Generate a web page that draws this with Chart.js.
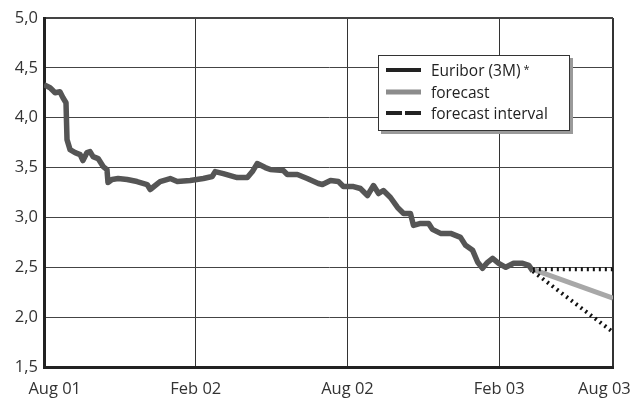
<!DOCTYPE html>
<html>
<head>
<meta charset="utf-8">
<script src="https://cdn.jsdelivr.net/npm/chart.js@4.4.1/dist/chart.umd.min.js"></script>
<style>
    body { margin: 0; background: #fff; font-family: "Open Sans", sans-serif; }
    #wrap { position: relative; width: 632px; height: 399px; }
    #legend {
        position: absolute; left: 378px; top: 55px; width: 190px; height: 74px;
        background: #fff; border: 1px solid #333; box-shadow: 3px 3px 0 #9a9a9a;
        font-size: 15.5px; color: #222;
    }
    .row { position: absolute; left: 7px; height: 20px; display: flex; align-items: center; }
    .row svg { margin-right: 10px; }
    sup { font-size: 11px; position: relative; top: -2px; margin-left: 3px; }
</style>
</head>
<body>
<div id="wrap">
    <canvas id="chart" width="632" height="399"></canvas>
    <div id="legend">
        <div class="row" style="top:4px"><svg width="35" height="8"><line x1="0" y1="4" x2="35" y2="4" stroke="#222" stroke-width="4"/></svg>Euribor (3M)<sup>*</sup></div>
        <div class="row" style="top:26px"><svg width="35" height="8"><line x1="0" y1="4" x2="35" y2="4" stroke="#8c8c8c" stroke-width="5"/></svg>forecast</div>
        <div class="row" style="top:47px"><svg width="35" height="8"><line x1="0" y1="4" x2="35" y2="4" stroke="#222" stroke-width="4" stroke-dasharray="16 3"/></svg>forecast interval</div>
    </div>
</div>
<script>
// x values are months since Aug 2001
const xMax = 22.5;
const tickMonths = [0, 6, 12, 18, xMax];
const tickLabels = ["Aug 01", "Feb 02", "Aug 02", "Feb 03", "Aug 03"];

const euriborMonths = [
    0.00, 0.24, 0.44, 0.63, 0.75, 0.87, 0.91, 1.03, 1.23, 1.43, 1.54, 1.70, 1.82, 1.94,
    2.14, 2.34, 2.49, 2.53, 2.69, 2.93, 3.29, 3.68, 4.08, 4.20, 4.59, 4.99, 5.27, 5.78,
    6.30, 6.65, 6.77, 7.09, 7.64, 8.04, 8.24, 8.43, 8.75, 8.95, 9.46, 9.62, 10.02, 10.41,
    10.85, 11.01, 11.33, 11.64, 11.84, 12.24, 12.51, 12.79, 13.03, 13.23, 13.42, 13.70,
    13.98, 14.22, 14.49, 14.61, 14.89, 15.21, 15.36, 15.68, 16.08, 16.47, 16.67, 16.95,
    17.15, 17.34, 17.54, 17.74, 17.98, 18.26, 18.57, 18.93, 19.17, 19.33,
];
const euribor = [
    4.33, 4.30, 4.25, 4.26, 4.20, 4.15, 3.78, 3.68, 3.65, 3.63, 3.57, 3.65, 3.66, 3.61,
    3.59, 3.51, 3.48, 3.35, 3.38, 3.39, 3.38, 3.36, 3.33, 3.28, 3.36, 3.39, 3.36, 3.37,
    3.39, 3.41, 3.46, 3.44, 3.40, 3.40, 3.46, 3.54, 3.50, 3.48, 3.47, 3.43, 3.43, 3.39,
    3.34, 3.33, 3.37, 3.36, 3.31, 3.31, 3.29, 3.22, 3.32, 3.24, 3.27, 3.20,
    3.10, 3.04, 3.04, 2.92, 2.94, 2.94, 2.88, 2.84, 2.84, 2.80, 2.72, 2.67,
    2.55, 2.49, 2.55, 2.59, 2.54, 2.50, 2.54, 2.54, 2.52, 2.46,
];

const forecastMonths = [19.33, xMax];
const forecast = [2.48, 2.19];
const upperBound = [2.48, 2.48];
const lowerBound = [2.46, 1.85];

const toPoints = (xs, ys) => xs.map((x, i) => ({ x, y: ys[i] }));
const LINE_CONSTS = { pointRadius: 0, tension: 0, fill: false, borderJoinStyle: "round" };

new Chart(document.getElementById("chart"), {
    type: "line",
    data: {
        datasets: [
            { ...LINE_CONSTS, data: toPoints(forecastMonths, upperBound), borderColor: "#111", borderWidth: 4, borderDash: [2, 4] },
            { ...LINE_CONSTS, data: toPoints(forecastMonths, lowerBound), borderColor: "#111", borderWidth: 4, borderDash: [2, 4] },
            { ...LINE_CONSTS, data: toPoints(forecastMonths, forecast), borderColor: "#a8a8a8", borderWidth: 5 },
            { ...LINE_CONSTS, data: toPoints(euriborMonths, euribor), borderColor: "#555", borderWidth: 5.5 },
        ],
    },
    options: {
        responsive: false,
        animation: false,
        layout: { padding: { top: 18, right: 19, left: 0, bottom: 0 } },
        plugins: { legend: { display: false }, tooltip: { enabled: false } },
        scales: {
            x: {
                type: "linear",
                min: 0,
                max: xMax,
                afterBuildTicks: (scale) => { scale.ticks = tickMonths.map((value) => ({ value })); },
                afterFit: (scale) => { scale.height = 32; scale.paddingLeft = 0; scale.paddingRight = 0; },
                grid: {
                    color: "#333",
                    lineWidth: (c) => (c.index === tickMonths.length - 1 ? 2 : 1),
                    drawTicks: false,
                },
                border: { color: "#222", width: 3 },
                ticks: {
                    autoSkip: false,
                    maxRotation: 0,
                    padding: 12,
                    color: "#333",
                    font: { family: "Open Sans", size: 16.5 },
                    // nudge first and last labels inward like the original
                    callback: (v, i) => (i === 0 ? "     " : "") + tickLabels[i] + (i === tickLabels.length - 1 ? "    " : ""),
                },
            },
            y: {
                min: 1.5,
                max: 5,
                afterFit: (scale) => { scale.width = 44; },
                grid: {
                    color: "#444",
                    lineWidth: (c) => (c.tick && c.tick.value === 5 ? 2 : 1),
                    drawTicks: false,
                },
                border: { color: "#222", width: 3 },
                ticks: {
                    stepSize: 0.5,
                    padding: 6,
                    color: "#333",
                    font: { family: "Open Sans", size: 16.5 },
                    callback: (v) => v.toFixed(1).replace(".", ","),
                },
            },
        },
    },
});
</script>
</body>
</html>
